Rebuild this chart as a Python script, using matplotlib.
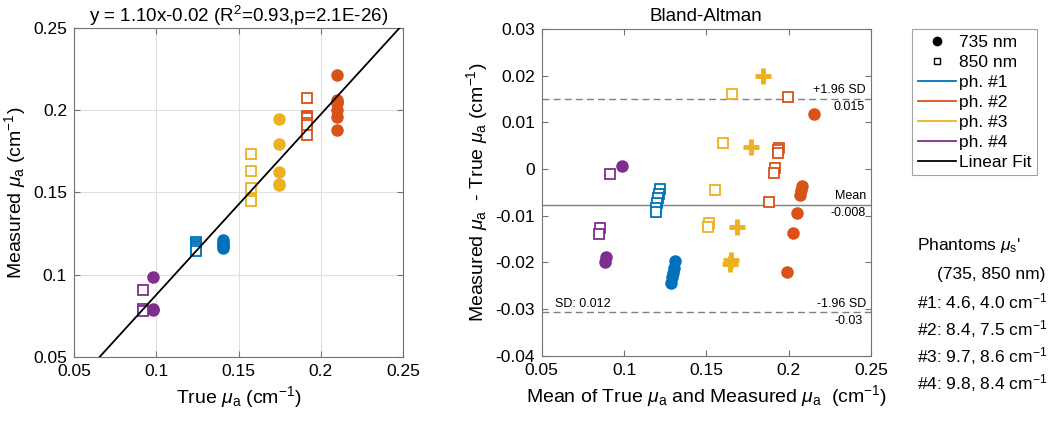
import matplotlib
matplotlib.use("Agg")
import matplotlib.pyplot as plt
from matplotlib.lines import Line2D
import numpy as np

plt.rcParams['font.family'] = ['Liberation Sans', 'DejaVu Sans']
plt.rcParams['mathtext.fontset'] = 'custom'
plt.rcParams['mathtext.rm'] = 'Liberation Sans'
plt.rcParams['mathtext.it'] = 'Liberation Sans:italic'

# phantom colours (MATLAB default order)
colors = ['#0072BD', '#D95319', '#EDB120', '#7E2F8E']
phantom_names = ['ph. #1', 'ph. #2', 'ph. #3', 'ph. #4']

# true mu_a per phantom, 735 nm and 850 nm
true_735 = [0.1407, 0.2097, 0.1746, 0.0982]
true_850 = [0.1239, 0.1918, 0.1573, 0.0917]

# measured mu_a, repeated measurements
meas_735 = [
    [0.1209, 0.1195, 0.1185, 0.1175, 0.1162],
    [0.2215, 0.2061, 0.2052, 0.2042, 0.2002, 0.1961, 0.1877],
    [0.1946, 0.1793, 0.1622, 0.1551, 0.1543],
    [0.0989, 0.0794, 0.0783],
]
meas_850 = [
    [0.1196, 0.1186, 0.1176, 0.1166, 0.1155, 0.1146],
    [0.2073, 0.1963, 0.1958, 0.1953, 0.1921, 0.1909, 0.1848],
    [0.1734, 0.1629, 0.1529, 0.1458, 0.1449],
    [0.0907, 0.0790, 0.0777],
]

fit_slope, fit_intercept = 1.096, -0.0218
ba_mean, ba_upper, ba_lower = -0.0076, 0.0151, -0.0307

xticks = [0.05, 0.1, 0.15, 0.2, 0.25]
xtick_labels = ['0.05', '0.1', '0.15', '0.2', '0.25']
ba_yticks = [0.03, 0.02, 0.01, 0, -0.01, -0.02, -0.03, -0.04]
ba_ytick_labels = ['0.03', '0.02', '0.01', '0', '-0.01', '-0.02', '-0.03', '-0.04']

MU = r'\mathit{\mu}'
phantom_text = ["Phantoms $" + MU + "_{\\rm s}$'", "(735, 850 nm)",
                "#1: 4.6, 4.0 cm$^{-1}$", "#2: 8.4, 7.5 cm$^{-1}$",
                "#3: 9.7, 8.6 cm$^{-1}$", "#4: 9.8, 8.4 cm$^{-1}$"]

fig = plt.figure(figsize=(10.5, 4.21), dpi=100)
ax1 = fig.add_axes([0.0705, 0.152, 0.3133, 0.782])
ax2 = fig.add_axes([0.5159, 0.155, 0.3136, 0.776])

spine_col = '0.45'
for ax in (ax1, ax2):
    for s in ax.spines.values():
        s.set_color(spine_col)
        s.set_linewidth(0.8)
    ax.tick_params(direction='in', length=4, color=spine_col, labelsize=12.5,
                   top=True, right=True, pad=5)

# --- left: measured vs true ---
for i in range(4):
    ax1.plot([true_735[i]] * len(meas_735[i]), meas_735[i], 'o', color=colors[i],
             ms=8, zorder=3)
    ax1.plot([true_850[i]] * len(meas_850[i]), meas_850[i], 's', color=colors[i],
             mfc='white', mew=1.3, ms=6.5, zorder=3)
xf = np.array([0.04, 0.26])
ax1.plot(xf, fit_slope * xf + fit_intercept, color='black', lw=1.3, zorder=4)
ax1.set_xlim(0.05, 0.25)
ax1.set_ylim(0.05, 0.25)
ax1.set_xticks(xticks)
ax1.set_xticklabels(xtick_labels)
ax1.set_yticks(xticks)
ax1.set_yticklabels(xtick_labels)
ax1.grid(True, color='0.88', lw=0.8)
ax1.set_axisbelow(True)
ax1.set_title('y = 1.10x-0.02 (R$^2$=0.93,p=2.1E-26)', fontsize=13.5, pad=4)
ax1.set_xlabel('True $' + MU + r'_{\rm a}$ (cm$^{-1}$)', fontsize=14)
ax1.set_ylabel('Measured $' + MU + r'_{\rm a}$ (cm$^{-1}$)', fontsize=14)

# --- right: Bland-Altman ---
for i in range(4):
    m = np.array(meas_735[i])
    mk = '+' if i == 2 else 'o'
    ax2.plot((m + true_735[i]) / 2, m - true_735[i], mk, color=colors[i],
             ms=11 if i == 2 else 8, mew=3.5 if i == 2 else 1, zorder=3)
    m = np.array(meas_850[i])
    ax2.plot((m + true_850[i]) / 2, m - true_850[i], 's', color=colors[i],
             mfc='white', mew=1.3, ms=6.5, zorder=3)
ax2.axhline(ba_mean, color='0.5', lw=1)
ax2.axhline(ba_upper, color='0.5', lw=1, ls=(0, (5, 3)))
ax2.axhline(ba_lower, color='0.5', lw=1, ls=(0, (5, 3)))
ax2.set_xlim(0.05, 0.25)
ax2.set_ylim(-0.04, 0.03)
ax2.set_xticks(xticks)
ax2.set_xticklabels(xtick_labels)
ax2.set_yticks(ba_yticks)
ax2.set_yticklabels(ba_ytick_labels)
ax2.set_title('Bland-Altman', fontsize=13.5, pad=6)
ax2.set_xlabel('Mean of True $' + MU + r'_{\rm a}$ and Measured $' + MU +
               r'_{\rm a}$  (cm$^{-1}$)', fontsize=14)
ax2.set_ylabel('Measured $' + MU + r'_{\rm a}$  - True $' + MU +
               r'_{\rm a}$ (cm$^{-1}$)', fontsize=14)

fs = 9
xr = 0.247
ax2.text(xr, ba_upper + 0.0006, '+1.96 SD', ha='right', va='bottom', fontsize=fs)
ax2.text(xr - 0.001, ba_upper - 0.0006, '0.015', ha='right', va='top', fontsize=fs)
ax2.text(xr, ba_mean + 0.0006, 'Mean', ha='right', va='bottom', fontsize=fs)
ax2.text(xr, ba_mean - 0.0006, '-0.008', ha='right', va='top', fontsize=fs)
ax2.text(xr, ba_lower + 0.0006, '-1.96 SD', ha='right', va='bottom', fontsize=fs)
ax2.text(xr - 0.002, ba_lower - 0.0006, '-0.03', ha='right', va='top', fontsize=fs)
ax2.text(0.058, ba_lower + 0.0006, 'SD: 0.012', ha='left', va='bottom', fontsize=fs)

# legend
handles = [Line2D([], [], marker='o', color='black', ls='none', ms=6),
           Line2D([], [], marker='s', color='black', mfc='white', ls='none', ms=5, mew=1)]
labels = ['735 nm', '850 nm']
for c, n in zip(colors, phantom_names):
    handles.append(Line2D([], [], color=c, lw=1.3))
    labels.append(n)
handles.append(Line2D([], [], color='black', lw=1.3))
labels.append('Linear Fit')
leg = fig.legend(handles, labels, loc='upper left', bbox_to_anchor=(0.869, 0.93),
                 fontsize=12.5, frameon=True, fancybox=False, edgecolor='0.55',
                 handlelength=2.2, handletextpad=0.2, borderpad=0.3,
                 labelspacing=0.28, borderaxespad=0)
leg.get_frame().set_linewidth(0.8)

ys = [245, 274, 302, 329, 356, 383]
xs = [917, 937, 917, 917, 917, 917]
for t, y, x in zip(phantom_text, ys, xs):
    fig.text(x / 1050, 1 - y / 421, t, fontsize=12.5, ha='left', va='center')

fig.savefig('out.png', dpi=100)
